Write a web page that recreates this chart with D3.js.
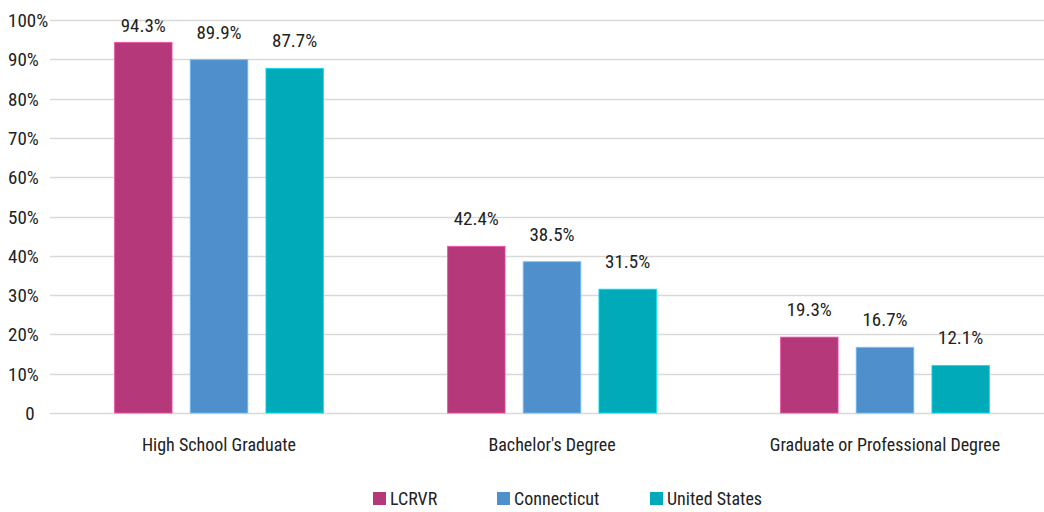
<!DOCTYPE html>
<html>
<head>
<meta charset="utf-8">
<script src="https://cdn.jsdelivr.net/npm/d3@7/dist/d3.min.js"></script>
<style>
  html, body { margin: 0; padding: 0; background: #fff; }
  svg { display: block; font-family: "Liberation Sans Narrow", "Roboto Condensed", "DejaVu Sans Condensed", sans-serif; }
</style>
</head>
<body>
<svg id="chart" width="1044" height="512"></svg>
<script>
// Educational attainment shares
const categories = ["High School Graduate", "Bachelor's Degree", "Graduate or Professional Degree"];
const seriesNames = ["LCRVR", "Connecticut", "United States"];
const lcrvr = [0.943, 0.424, 0.193];
const connecticut = [0.899, 0.385, 0.167];
const unitedStates = [0.877, 0.315, 0.121];
const yTicks = [0, 0.1, 0.2, 0.3, 0.4, 0.5, 0.6, 0.7, 0.8, 0.9, 1.0];
const yTickLabels = ["0", "10%", "20%", "30%", "40%", "50%", "60%", "70%", "80%", "90%", "100%"];

const colors = ["#B5397A", "#4E8FCC", "#00AAB9"];
const seriesValues = [lcrvr, connecticut, unitedStates];

const svg = d3.select("#chart");
const W = 1044;
const ink = "#222";

const y = d3.scaleLinear().domain([0, 1]).range([413, 20]);
const x0 = d3.scaleBand().domain(categories).range([52.5, 1051.5]).paddingInner(0).paddingOuter(0);
const x1 = d3.scaleBand().domain(seriesNames).range([0, x0.bandwidth()]).paddingInner(0.24).paddingOuter(0.82);
const color = d3.scaleOrdinal().domain(seriesNames).range(colors);

// Horizontal gridlines
svg.append("g")
  .selectAll("line")
  .data(yTicks)
  .join("line")
  .attr("x1", 50)
  .attr("x2", W)
  .attr("y1", d => Math.round(y(d)) + 0.5)
  .attr("y2", d => Math.round(y(d)) + 0.5)
  .attr("stroke", "#d9d9d9")
  .attr("stroke-width", 1.6);

// Y tick labels
svg.append("g")
  .selectAll("text")
  .data(yTicks)
  .join("text")
  .attr("x", d => d === 0 ? 30 : 8)
  .attr("y", d => y(d) + 7)
  .attr("text-anchor", d => d === 0 ? "middle" : "start")
  .attr("font-size", 19)
  .attr("fill", ink)
  .text((d, i) => yTickLabels[i]);

// Bars
const rows = categories.map((c, ci) => ({
  category: c,
  items: seriesNames.map((s, si) => ({ series: s, value: seriesValues[si][ci] }))
}));

const groups = svg.append("g")
  .selectAll("g")
  .data(rows)
  .join("g")
  .attr("transform", d => `translate(${x0(d.category)},0)`);

groups.selectAll("rect")
  .data(d => d.items)
  .join("rect")
  .attr("x", d => x1(d.series))
  .attr("y", d => y(d.value))
  .attr("width", x1.bandwidth())
  .attr("height", d => y(0) - y(d.value))
  .attr("fill", d => color(d.series))
  .attr("stroke", d => d3.color(color(d.series)).brighter(0.8))
  .attr("stroke-opacity", 0.8)
  .attr("stroke-width", 1);

// Value labels
groups.selectAll("text")
  .data(d => d.items)
  .join("text")
  .attr("x", d => x1(d.series) + x1.bandwidth() / 2)
  .attr("y", d => Math.max(y(d.value) - 21, 32))
  .attr("text-anchor", "middle")
  .attr("font-size", 19)
  .attr("fill", ink)
  .text(d => (d.value * 100).toFixed(1) + "%");

// Category labels
svg.append("g")
  .selectAll("text")
  .data(categories)
  .join("text")
  .attr("x", d => x0(d) + x0.bandwidth() / 2)
  .attr("y", 451)
  .attr("text-anchor", "middle")
  .attr("font-size", 18)
  .attr("fill", ink)
  .text(d => d);

// Legend
const legendX = [373, 497, 650];
const legend = svg.append("g")
  .selectAll("g")
  .data(seriesNames)
  .join("g")
  .attr("transform", (d, i) => `translate(${legendX[i]},492)`);

legend.append("rect")
  .attr("width", 13)
  .attr("height", 13)
  .attr("fill", d => color(d));

legend.append("text")
  .attr("x", 17)
  .attr("y", 13)
  .attr("font-size", 18)
  .attr("fill", ink)
  .text(d => d);
</script>
</body>
</html>
